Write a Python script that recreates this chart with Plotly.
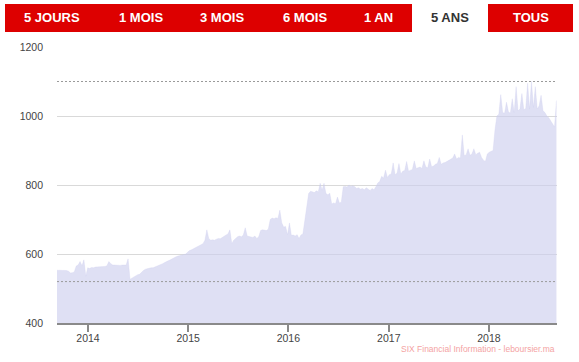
import pandas as pd
import plotly.graph_objects as go

# ---- data (weekly closing values) ----
start_date = "2013-09-10"
values = [
    553, 553, 552, 552, 551, 552, 550, 545, 546, 548,
    565, 568, 578, 566, 583, 536, 560, 558, 561, 560,
    562, 562, 563, 563, 564, 564, 566, 578, 572, 568,
    568, 567, 568, 567, 568, 567, 568, 586, 527, 530,
    534, 538, 540, 541, 548, 552, 556, 558, 559, 560,
    560, 562, 565, 567, 569, 572, 575, 577, 580, 583,
    586, 590, 592, 594, 596, 597, 598, 600, 605, 610,
    612, 615, 618, 620, 622, 625, 630, 640, 670, 645,
    640, 641, 640, 643, 645, 644, 648, 653, 655, 658,
    670, 630, 640, 645, 650, 652, 650, 655, 676, 652,
    650, 650, 648, 652, 645, 650, 668, 670, 669, 668,
    672, 700, 704, 702, 705, 703, 727, 690, 678, 680,
    656, 690, 654, 655, 652, 656, 645, 655, 658, 700,
    735, 775, 782, 780, 778, 783, 780, 805, 785, 805,
    775, 772, 776, 745, 748, 746, 765, 748, 750, 795,
    796, 794, 800, 796, 798, 795, 790, 792, 788, 790,
    786, 792, 788, 784, 790, 786, 795, 806, 810, 825,
    820, 843, 822, 830, 832, 864, 830, 834, 862, 832,
    840, 842, 868, 840, 843, 845, 870, 848, 850, 852,
    848, 870, 852, 850, 875, 853, 855, 860, 862, 880,
    860, 864, 865, 868, 872, 875, 878, 890, 875, 880,
    878, 945, 885, 888, 905, 886, 890, 905, 888, 892,
    895, 880, 872, 868, 890, 895, 898, 900, 960, 1000,
    1005, 1062, 1010, 1008, 1040, 1012, 1008, 1050, 1010, 1085,
    1015, 1020, 1065, 1018, 1022, 1095, 1020, 1100, 1025, 1085,
    1020, 1030, 1060, 1015, 1010, 1000, 995, 985, 975, 968,
    1045,
]
dates = pd.date_range(start_date, periods=len(values), freq="7D")

ref_high = 1100
ref_low = 520
y_ticks = [400, 600, 800, 1000, 1200]
buttons = ["5 JOURS", "1 MOIS", "3 MOIS", "6 MOIS", "1 AN", "5 ANS", "TOUS"]
selected = "5 ANS"
watermark = "SIX Financial Information - leboursier.ma"

# ---- figure ----
W, H = 579, 362
ml, mr, mt, mb = 57, 22, 47, 39
pw, ph = W - ml - mr, H - mt - mb
FONT = "Arial, Liberation Sans, sans-serif"
RED = "#dd0000"


def px_x(p):
    return (p - ml) / pw


def px_y(p):
    return (H - mb - p) / ph


fig = go.Figure()
fig.add_trace(go.Scatter(
    x=dates, y=values, mode="lines", fill="tozeroy",
    fillcolor="rgba(203,205,237,0.62)",
    line=dict(color="rgba(203,205,237,0.5)", width=0.6),
    hoverinfo="skip", showlegend=False,
))

shapes = []
for lvl in (ref_high, ref_low):
    shapes.append(dict(type="line", xref="paper", yref="y", x0=0, x1=1,
                       y0=lvl, y1=lvl,
                       line=dict(color="#9a9a9a", width=1, dash="2px,2px")))

# button bar
shapes.append(dict(type="rect", xref="paper", yref="paper", layer="above",
                   x0=px_x(5), x1=px_x(412), y0=px_y(32), y1=px_y(4),
                   fillcolor=RED, line=dict(width=0)))
shapes.append(dict(type="rect", xref="paper", yref="paper", layer="above",
                   x0=px_x(488), x1=px_x(573), y0=px_y(32), y1=px_y(4),
                   fillcolor=RED, line=dict(width=0)))

centers = [52, 141, 222, 305, 378, 450, 531]
annotations = []
for lab, cx in zip(buttons, centers):
    annotations.append(dict(
        text=lab, x=px_x(cx), y=px_y(17.5), xref="paper", yref="paper",
        showarrow=False, xanchor="center", yanchor="middle",
        font=dict(family=FONT, size=13,
                  color="#333333" if lab == selected else "#ffffff",
                  weight="bold"),
    ))
annotations.append(dict(
    text=watermark, x=px_x(557), y=px_y(349), xref="paper", yref="paper",
    showarrow=False, xanchor="right", yanchor="middle",
    font=dict(family=FONT, size=8.5, color="#f4a3a3"),
))

fig.update_layout(
    width=W, height=H, autosize=False,
    margin=dict(l=ml, r=mr, t=mt, b=mb, pad=0),
    paper_bgcolor="white", plot_bgcolor="white",
    shapes=shapes, annotations=annotations,
    xaxis=dict(
        range=["2013-09-10", "2018-09-06"], type="date",
        tick0="2014-01-01", dtick="M12", tickformat="%Y",
        ticks="outside", ticklen=7, tickwidth=2, tickcolor="#8a8a8a",
        ticklabelstandoff=-3,
        showline=True, linecolor="#8a8a8a", linewidth=2,
        showgrid=False, zeroline=False,
        tickfont=dict(family=FONT, size=10.5, color="#444444"),
        fixedrange=True,
    ),
    yaxis=dict(
        range=[400, 1200], tickvals=y_ticks,
        showgrid=True, gridcolor="#d9d9d9", gridwidth=1,
        zeroline=False, showline=False, ticks="",
        ticklabelstandoff=13,
        tickfont=dict(family=FONT, size=10.5, color="#444444"),
        fixedrange=True,
    ),
)

fig.write_html(
    "out.html",
    config={"displayModeBar": False},
    post_script="document.body.style.margin='0';document.body.style.padding='0';",
)
